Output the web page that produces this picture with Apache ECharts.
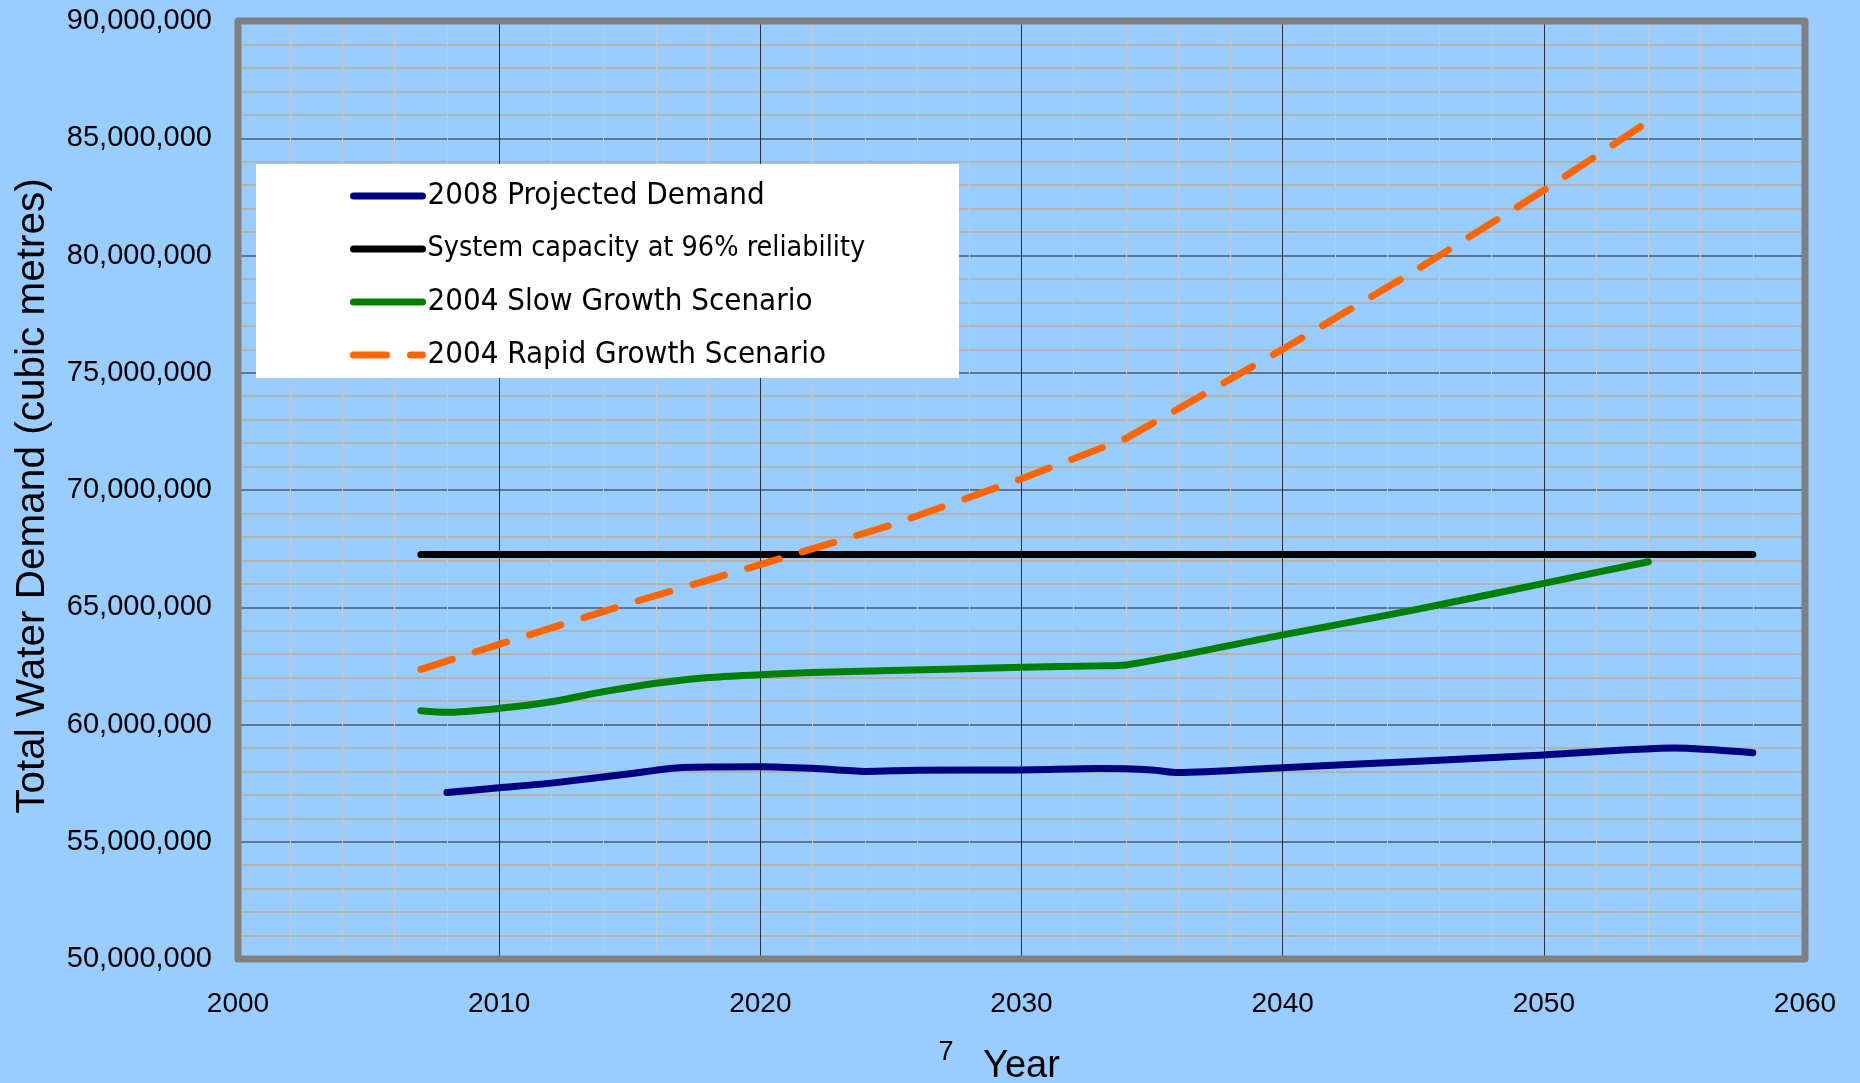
<!DOCTYPE html>
<html>
<head>
<meta charset="utf-8">
<title>Total Water Demand</title>
<script src="https://cdn.jsdelivr.net/npm/echarts@6/dist/echarts.min.js"></script>
<style>
  html, body { margin: 0; padding: 0; background: #99CCFF; }
  #main { width: 1860px; height: 1083px; }
</style>
</head>
<body>
<div id="main"></div>
<script>
// data (cubic metres)
var demand08_years = [2008, 2010, 2012, 2015, 2017, 2020, 2022, 2024, 2026, 2030, 2033, 2035, 2036, 2040, 2045, 2050, 2055, 2058]
var demand08_vals = [57100000, 57300000, 57500000, 57900000, 58170000, 58200000, 58130000, 58000000, 58050000, 58060000, 58120000, 58060000, 57950000, 58160000, 58420000, 58700000, 59000000, 58800000]

var capacity_years = [2007, 2058]
var capacity_vals = [67250000, 67250000]

var slow_years = [2007, 2008, 2010, 2012, 2014, 2016, 2018, 2020, 2022, 2025, 2030, 2033, 2034, 2040, 2045, 2050, 2054]
var slow_vals = [60590000, 60520000, 60690000, 60970000, 61400000, 61760000, 62000000, 62120000, 62220000, 62300000, 62440000, 62500000, 62540000, 63820000, 64880000, 66020000, 66940000]

var rapid_years = [2007, 2010, 2015, 2020, 2025, 2030, 2034, 2035, 2040, 2045, 2050, 2054]
var rapid_vals = [62350000, 63420000, 65170000, 66820000, 68500000, 70480000, 72200000, 72830000, 76000000, 79300000, 82780000, 85710000]

var series_names = ['2008 Projected Demand', 'System capacity at 96% reliability', '2004 Slow Growth Scenario', '2004 Rapid Growth Scenario']
var x_ticks = { min: 2000, max: 2060, interval: 10 }
var y_ticks = { min: 50000000, max: 90000000, interval: 5000000 }

// plot frame
var G = { left: 238, top: 21, width: 1567, height: 938 }

var zip = function (xs, ys) {
    return xs.map(function (x, i) { return [x, ys[i]] })
}
var addCommas = function (v) {
    return String(v).replace(/\B(?=(\d{3})+(?!\d))/g, ',')
}

var labelFont = "'Liberation Sans', Arial, sans-serif"
var legendFont = "'DejaVu Sans Condensed', 'Liberation Sans Narrow', 'DejaVu Sans', sans-serif"

var myChart = echarts.init(document.getElementById('main'), null, { renderer: 'canvas' })

var option = {
    backgroundColor: '#99CCFF',
    animation: false,
    // keep the plot exactly where the frame is (no auto shrink for labels)
    grid: { left: G.left, top: G.top, width: G.width, height: G.height, show: false, outerBoundsMode: 'none', containLabel: false },
    legend: {
        orient: 'vertical',
        left: 350,
        top: 176,
        padding: 0,
        z: 5,
        itemWidth: 69,
        itemHeight: 14,
        itemGap: 13,
        itemStyle: { opacity: 0 },
        lineStyle: { width: 7, cap: 'round' },
        textStyle: { fontFamily: legendFont, fontSize: 31, lineHeight: 40, color: '#000' },
        data: [
            { name: series_names[0] },
            { name: series_names[1], textStyle: { fontSize: 28.5 } },
            { name: series_names[2] },
            { name: series_names[3] }
        ]
    },
    xAxis: {
        type: 'value',
        min: x_ticks.min, max: x_ticks.max, interval: x_ticks.interval,
        name: 'Year',
        nameLocation: 'middle',
        nameGap: 89,
        nameTextStyle: { fontFamily: labelFont, fontSize: 38, color: '#000' },
        axisLine: { show: false },
        axisTick: { show: false },
        axisLabel: { fontFamily: labelFont, fontSize: 28, color: '#000', margin: 31, formatter: function (v) { return String(v) } },
        splitLine: { show: true, lineStyle: { color: '#2a2f3a', width: 1 } },
        minorTick: { show: false, splitNumber: 5 },
        minorSplitLine: { show: true, lineStyle: { color: '#c2c8d0', width: 1 } }
    },
    yAxis: {
        type: 'value',
        min: y_ticks.min, max: y_ticks.max, interval: y_ticks.interval,
        name: 'Total Water Demand (cubic metres)',
        nameLocation: 'middle',
        nameGap: 185,
        nameTextStyle: { fontFamily: labelFont, fontSize: 40.5, color: '#000', padding: [0, 12, 0, 0] },
        axisLine: { show: false },
        axisTick: { show: false },
        axisLabel: { fontFamily: labelFont, fontSize: 29, color: '#000', margin: 26, formatter: addCommas },
        splitLine: { show: true, lineStyle: { color: '#4c5a6e', width: 1.5 } },
        minorTick: { show: false, splitNumber: 5 },
        minorSplitLine: { show: true, lineStyle: { color: '#b2b2b2', width: 2 } }
    },
    series: [
        {
            name: series_names[0], type: 'line', z: 6, showSymbol: false, symbol: 'none', smooth: 0.25,
            data: zip(demand08_years, demand08_vals),
            itemStyle: { color: '#000080' },
            lineStyle: { color: '#000080', width: 7, cap: 'round', join: 'round' }
        },
        {
            name: series_names[1], type: 'line', z: 6, showSymbol: false, symbol: 'none',
            data: zip(capacity_years, capacity_vals),
            itemStyle: { color: '#000000' },
            lineStyle: { color: '#000000', width: 7, cap: 'round' }
        },
        {
            name: series_names[2], type: 'line', z: 6, showSymbol: false, symbol: 'none', smooth: 0.25,
            data: zip(slow_years, slow_vals),
            itemStyle: { color: '#008000' },
            lineStyle: { color: '#008000', width: 7, cap: 'round', join: 'round' }
        },
        {
            name: series_names[3], type: 'line', z: 6, showSymbol: false, symbol: 'none',
            data: zip(rapid_years, rapid_vals),
            itemStyle: { color: '#FF6600' },
            lineStyle: { color: '#FF6600', width: 7, type: [33, 24], cap: 'round', join: 'round' }
        }
    ],
    graphic: [
        // white legend box
        { type: 'rect', z: 4, shape: { x: 256, y: 164, width: 703, height: 214 }, style: { fill: '#ffffff' } },
        // grey frame round the plot
        { type: 'rect', z: 20, shape: { x: G.left, y: G.top, width: G.width, height: G.height },
          style: { fill: null, stroke: '#808080', lineWidth: 7, lineJoin: 'round' } },
        // footnote
        { type: 'text', z: 20, x: 946, y: 1053,
          style: { text: '7', font: "27px 'Liberation Sans', Arial, sans-serif", fill: '#000', textAlign: 'center', textVerticalAlign: 'middle' } }
    ]
}
myChart.setOption(option)
</script>
</body>
</html>
